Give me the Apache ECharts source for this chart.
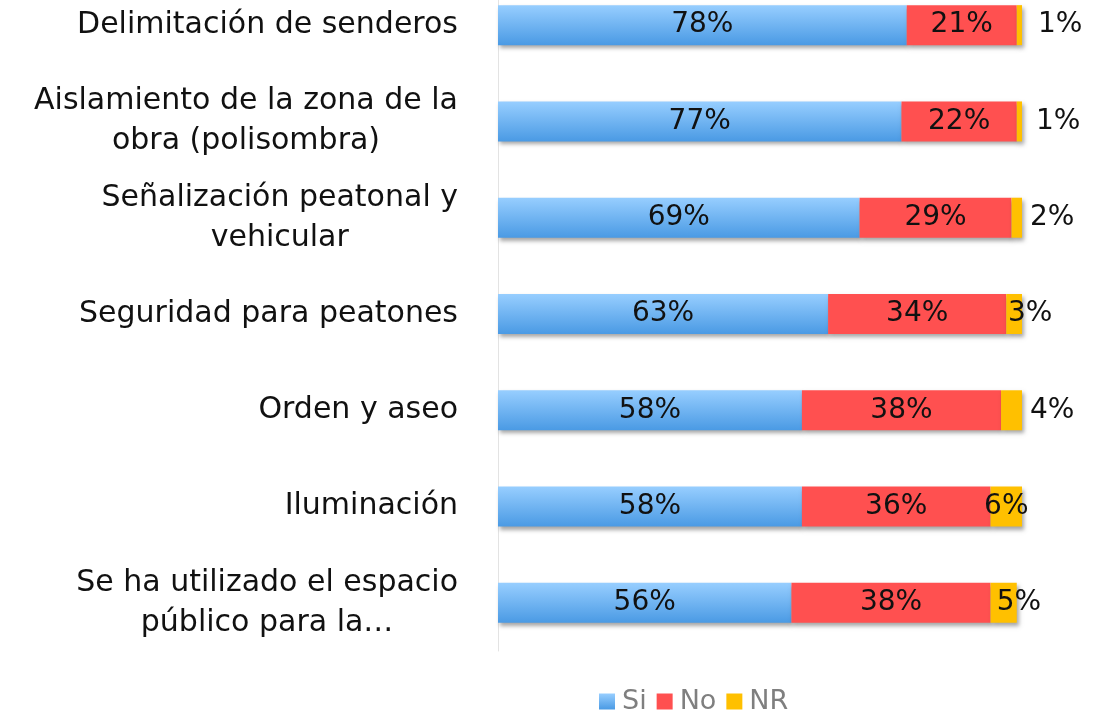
<!DOCTYPE html>
<html>
<head>
<meta charset="utf-8">
<script src="https://cdn.jsdelivr.net/npm/echarts@6/dist/echarts.min.js"></script>
<style>
  html, body { margin: 0; padding: 0; background: #fff; }
  #chart { width: 1097px; height: 714px; }
</style>
</head>
<body>
<div id="chart"></div>
<script>
// data
const categories = [
  'Delimitación de senderos',
  'Aislamiento de la zona de la\nobra (polisombra)',
  'Señalización peatonal y\nvehicular',
  'Seguridad para peatones',
  'Orden y aseo',
  'Iluminación',
  'Se ha utilizado el espacio\npúblico para la…'
];
const si = [78, 77, 69, 63, 58, 58, 56];
const no = [21, 22, 29, 34, 38, 36, 38];
const nr = [1, 1, 2, 3, 4, 6, 5];

// where the NR label sits (outside to the right, or pulled back over the bar)
const nrLabelDist = [16, 14, 8, -14, 8, null, -20];

const FONT = 'DejaVu Sans';
const shadow = { shadowColor: 'rgba(0,0,0,0.35)', shadowBlur: 4, shadowOffsetX: 2, shadowOffsetY: 3 };

const chart = echarts.init(document.getElementById('chart'));

const labelBase = { show: true, color: '#111', fontFamily: FONT, fontSize: 28, formatter: '{c}%' };

chart.setOption({
  animation: false,
  grid: { left: 498, right: 75, top: -23, bottom: 63, outerBoundsMode: 'none' },
  xAxis: { type: 'value', min: 0, max: 100, show: false },
  yAxis: {
    type: 'category',
    data: categories,
    inverse: true,
    axisLine: { show: true, lineStyle: { color: '#E3E3E3', width: 1 } },
    axisTick: { show: false },
    axisLabel: {
      margin: 40,
      color: '#111',
      fontFamily: FONT,
      fontSize: 30,
      lineHeight: 40,
      formatter: function (v) {
        return v.split('\n').map(function (l) { return '{c|' + l + '}'; }).join('\n');
      },
      rich: { c: { align: 'center', fontFamily: FONT, fontSize: 30, lineHeight: 40, color: '#111' } }
    }
  },
  legend: {
    bottom: -6,
    left: 594,
    itemWidth: 16,
    itemHeight: 16,
    itemGap: 10,
    icon: 'rect',
    textStyle: { color: '#7F7F7F', fontFamily: FONT, fontSize: 27, padding: [0, 0, 0, 2] },
    data: ['Si', 'No', 'NR']
  },
  series: [
    {
      name: 'Si', type: 'bar', stack: 'a', barWidth: 40, data: si,
      itemStyle: Object.assign({
        color: new echarts.graphic.LinearGradient(0, 0, 0, 1, [
          { offset: 0, color: '#97CEFF' },
          { offset: 1, color: '#4A9AE4' }
        ])
      }, shadow),
      label: Object.assign({ position: 'inside' }, labelBase)
    },
    {
      name: 'No', type: 'bar', stack: 'a', data: no,
      itemStyle: Object.assign({ color: '#FF5050' }, shadow),
      label: Object.assign({ position: 'inside' }, labelBase)
    },
    {
      name: 'NR', type: 'bar', stack: 'a',
      data: nr.map(function (v, i) {
        const d = nrLabelDist[i];
        return d === null
          ? { value: v, label: { position: 'inside' } }
          : { value: v, label: { position: 'right', distance: d } };
      }),
      itemStyle: Object.assign({ color: '#FFC000' }, shadow),
      label: Object.assign({ position: 'right' }, labelBase)
    }
  ]
});
</script>
</body>
</html>
